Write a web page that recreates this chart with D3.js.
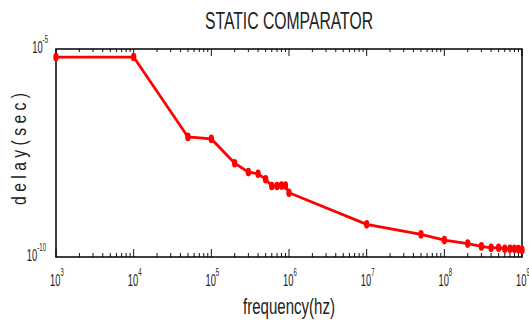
<!DOCTYPE html>
<html>
<head>
<meta charset="utf-8">
<script src="https://cdn.jsdelivr.net/npm/d3@7"></script>
<style>
  body { margin: 0; background: white; }
  text { font-family: "Liberation Sans", Arial, sans-serif; fill: #222; }
</style>
</head>
<body>
<svg id="chart"></svg>
<script>
// frequency (hz) and delay (sec)
const frequency = [1e3, 1e4, 5e4, 1e5, 2e5, 3e5, 4e5, 5e5, 6e5, 7e5, 8e5, 9e5, 1e6,
    1e7, 5e7, 1e8, 2e8, 3e8, 4e8, 5e8, 6e8, 7e8, 8e8, 9e8, 1e9];
const delay = [6.4e-6, 6.4e-6, 7.7e-8, 6.9e-8, 1.8e-8, 1.1e-8, 1.0e-8, 7.4e-9, 5.1e-9, 5.1e-9, 5.2e-9, 5.2e-9, 3.5e-9,
    6.1e-10, 3.5e-10, 2.55e-10, 2.1e-10, 1.8e-10, 1.66e-10, 1.67e-10, 1.57e-10, 1.57e-10, 1.57e-10, 1.55e-10, 1.48e-10];
const xTickExp = [3, 4, 5, 6, 7, 8, 9];
const yTickExp = [-5, -10];

const dimensions = {
    width: 529,
    height: 320,
    margin: { top: 49, right: 7, bottom: 63, left: 56 }
};
const w = dimensions.width - dimensions.margin.left - dimensions.margin.right;
const h = dimensions.height - dimensions.margin.top - dimensions.margin.bottom;
const narrow = 0.55; // the original font is very condensed

const svg = d3.select("#chart")
    .attr("width", dimensions.width)
    .attr("height", dimensions.height)
    .append("g")
    .attr("transform", `translate(${dimensions.margin.left},${dimensions.margin.top})`);

const xScale = d3.scaleLog().domain([1e3, 1e9]).range([0, w]);
const yScale = d3.scaleLog().domain([1e-10, 1e-5]).range([h, 0]);

// minor + major tick values for the log x axis
const xTicks = [];
for (let e = 3; e < 9; e++) {
    for (let m = 1; m < 10; m++) xTicks.push(m * Math.pow(10, e));
}
xTicks.push(1e9);
const isMajor = d => Math.abs(Math.log10(d) % 1) < 1e-9;

// bottom ticks (inward)
svg.append("g")
    .selectAll("line")
    .data(xTicks)
    .enter().append("line")
    .attr("x1", d => xScale(d))
    .attr("x2", d => xScale(d))
    .attr("y1", h)
    .attr("y2", d => isMajor(d) ? h - 8 : h - 4)
    .attr("stroke", "#111")
    .attr("stroke-width", 1);

// top ticks (inward)
svg.append("g")
    .selectAll("line")
    .data(xTicks)
    .enter().append("line")
    .attr("x1", d => xScale(d))
    .attr("x2", d => xScale(d))
    .attr("y1", 0)
    .attr("y2", d => isMajor(d) ? 7 : 3)
    .attr("stroke", "#111")
    .attr("stroke-width", 1);

// box
svg.append("rect")
    .attr("x", 0)
    .attr("y", 0)
    .attr("width", w)
    .attr("height", h)
    .attr("fill", "none")
    .attr("stroke", "#000")
    .attr("stroke-width", 1.5);

// x tick labels
const xLab = svg.append("g")
    .selectAll("text")
    .data(xTickExp)
    .enter().append("text")
    .attr("transform", d => `translate(${xScale(Math.pow(10, d)) + 1},${h + 29}) scale(${narrow},1)`)
    .attr("text-anchor", "middle")
    .style("font-size", "17px");
xLab.append("tspan").text("10");
xLab.append("tspan")
    .attr("dy", -10)
    .style("font-size", "11px")
    .text(d => d);

// y tick labels
const yLab = svg.append("g")
    .selectAll("text")
    .data(yTickExp)
    .enter().append("text")
    .attr("transform", d => `translate(${d === -5 ? -8 : -10},${yScale(Math.pow(10, d)) + 4}) scale(${narrow},1)`)
    .attr("text-anchor", "end")
    .style("font-size", "17px");
yLab.append("tspan").text("10");
yLab.append("tspan")
    .attr("dy", -10)
    .style("font-size", "11px")
    .text(d => d);

// line
const points = frequency.map((f, i) => ({ f: f, d: delay[i] }));

svg.append("path")
    .datum(points)
    .attr("fill", "none")
    .attr("stroke", "#ff0000")
    .attr("stroke-width", 2.8)
    .attr("d", d3.line().x(d => xScale(d.f)).y(d => yScale(d.d)));

svg.selectAll(".marker")
    .data(points)
    .enter().append("ellipse")
    .attr("class", "marker")
    .attr("cx", d => xScale(d.f))
    .attr("cy", d => yScale(d.d))
    .attr("rx", 2.7)
    .attr("ry", 4.3)
    .attr("fill", "#ff0000");

// title and axis labels
svg.append("text")
    .attr("x", w / 2)
    .attr("y", -20)
    .attr("text-anchor", "middle")
    .attr("textLength", 168)
    .attr("lengthAdjust", "spacingAndGlyphs")
    .style("font-size", "23px")
    .text("STATIC COMPARATOR");

svg.append("text")
    .attr("x", w / 2)
    .attr("y", h + 57)
    .attr("text-anchor", "middle")
    .attr("textLength", 92)
    .attr("lengthAdjust", "spacingAndGlyphs")
    .style("font-size", "22px")
    .text("frequency(hz)");

svg.append("text")
    .attr("transform", "rotate(-90)")
    .attr("x", -(h / 2) + 4)
    .attr("y", -30)
    .attr("text-anchor", "middle")
    .attr("textLength", 112)
    .attr("lengthAdjust", "spacingAndGlyphs")
    .style("font-size", "20px")
    .text("d e l a y ( s e c )");
</script>
</body>
</html>
